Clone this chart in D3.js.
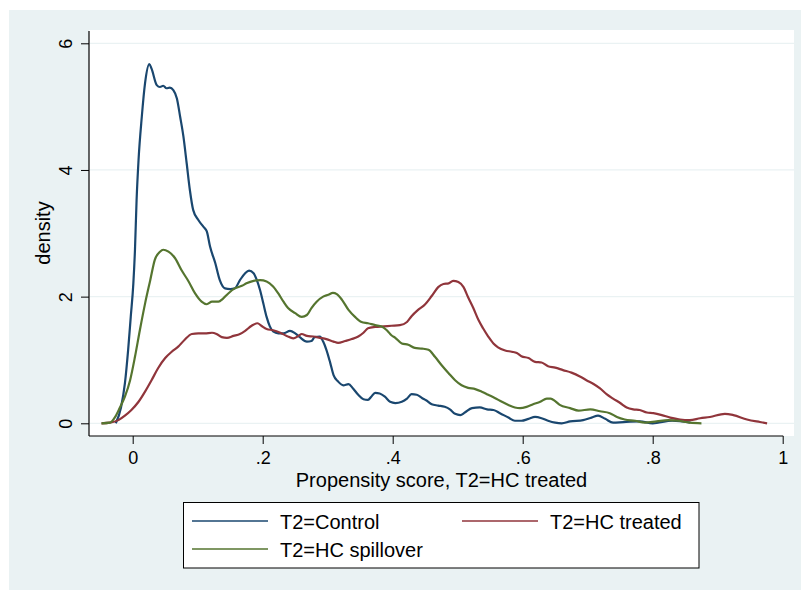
<!DOCTYPE html>
<html>
<head>
<meta charset="utf-8">
<script src="https://cdn.jsdelivr.net/npm/d3@7"></script>
<style>
  html, body { margin: 0; padding: 0; background: #ffffff; }
  svg { display: block; }
  text { font-family: "Liberation Sans", Arial, Helvetica, sans-serif; fill: #000; }
</style>
</head>
<body>
<svg id="chart" width="801" height="590"></svg>
<script>
// Kernel density estimates of the propensity score, by T2 group
const seriesNames = ["T2=Control", "T2=HC treated", "T2=HC spillover"];
const seriesColors = ["#1a476f", "#90353b", "#55752f"];

const controlDensity = [
  [-0.026,0.0],[-0.018,0.25],[-0.012,0.63],[-0.007,1.16],[-0.003,1.68],[0.001,2.21],
  [0.0035,2.74],[0.006,3.53],[0.009,4.16],[0.014,4.84],[0.019,5.37],[0.0256,5.67],
  [0.029,5.60],[0.037,5.34],[0.042,5.31],[0.047,5.33],[0.052,5.29],[0.057,5.30],
  [0.0625,5.26],[0.068,5.13],[0.073,4.84],[0.078,4.53],[0.083,4.11],[0.088,3.68],
  [0.093,3.37],[0.101,3.21],[0.109,3.10],[0.114,3.03],[0.119,2.79],[0.127,2.53],
  [0.134,2.26],[0.142,2.13],[0.150,2.12],[0.157,2.13],[0.165,2.26],[0.173,2.37],
  [0.179,2.41],[0.186,2.37],[0.191,2.26],[0.196,2.10],[0.201,1.89],[0.206,1.68],
  [0.211,1.53],[0.216,1.45],[0.224,1.42],[0.232,1.42],[0.242,1.46],[0.250,1.42],
  [0.257,1.36],[0.268,1.29],[0.275,1.30],[0.280,1.36],[0.288,1.37],[0.293,1.29],
  [0.298,1.16],[0.304,0.95],[0.309,0.76],[0.316,0.66],[0.324,0.60],[0.332,0.62],
  [0.339,0.55],[0.347,0.45],[0.355,0.38],[0.362,0.37],[0.367,0.42],[0.373,0.48],
  [0.380,0.47],[0.388,0.42],[0.396,0.34],[0.404,0.32],[0.414,0.34],[0.422,0.39],
  [0.429,0.46],[0.437,0.45],[0.445,0.40],[0.452,0.36],[0.460,0.30],[0.470,0.28],
  [0.480,0.26],[0.488,0.22],[0.496,0.15],[0.504,0.13],[0.511,0.17],[0.522,0.24],
  [0.534,0.25],[0.545,0.22],[0.555,0.21],[0.565,0.16],[0.578,0.09],[0.588,0.04],
  [0.598,0.04],[0.609,0.07],[0.619,0.10],[0.629,0.08],[0.639,0.04],[0.650,0.01],
  [0.660,0.0],[0.673,0.03],[0.693,0.05],[0.706,0.09],[0.716,0.12],[0.727,0.07],
  [0.739,0.01],[0.755,0.02],[0.780,0.03],[0.800,0.0],[0.830,0.04],[0.858,0.01]
];

const treatedDensity = [
  [-0.048,0.0],[-0.035,0.01],[-0.022,0.05],[-0.012,0.12],[-0.002,0.21],[0.009,0.34],
  [0.019,0.50],[0.029,0.68],[0.039,0.87],[0.050,1.03],[0.060,1.13],[0.070,1.21],
  [0.080,1.32],[0.091,1.41],[0.101,1.42],[0.111,1.42],[0.122,1.43],[0.129,1.41],
  [0.137,1.36],[0.145,1.35],[0.155,1.38],[0.165,1.41],[0.173,1.46],[0.183,1.54],
  [0.192,1.58],[0.198,1.54],[0.206,1.49],[0.216,1.47],[0.227,1.43],[0.237,1.38],
  [0.247,1.34],[0.255,1.38],[0.260,1.41],[0.268,1.38],[0.278,1.37],[0.288,1.35],
  [0.298,1.33],[0.309,1.29],[0.316,1.27],[0.327,1.30],[0.337,1.33],[0.347,1.37],
  [0.355,1.43],[0.362,1.50],[0.373,1.52],[0.386,1.53],[0.398,1.54],[0.411,1.55],
  [0.422,1.60],[0.429,1.69],[0.439,1.79],[0.450,1.88],[0.460,2.01],[0.470,2.15],
  [0.478,2.20],[0.486,2.21],[0.493,2.25],[0.501,2.23],[0.509,2.15],[0.516,1.99],
  [0.524,1.82],[0.532,1.63],[0.539,1.50],[0.547,1.37],[0.555,1.26],[0.562,1.20],
  [0.573,1.15],[0.583,1.13],[0.591,1.11],[0.598,1.06],[0.609,1.03],[0.619,0.97],
  [0.629,0.96],[0.639,0.90],[0.650,0.88],[0.662,0.84],[0.675,0.80],[0.688,0.74],
  [0.698,0.68],[0.709,0.62],[0.719,0.55],[0.729,0.46],[0.739,0.39],[0.750,0.32],
  [0.760,0.25],[0.770,0.22],[0.780,0.21],[0.791,0.17],[0.801,0.16],[0.814,0.13],
  [0.827,0.09],[0.842,0.06],[0.857,0.05],[0.873,0.08],[0.888,0.10],[0.911,0.15],
  [0.924,0.13],[0.945,0.06],[0.965,0.02],[0.976,0.0]
];

const spilloverDensity = [
  [-0.048,0.0],[-0.035,0.01],[-0.027,0.10],[-0.020,0.24],[-0.012,0.42],[-0.004,0.68],
  [0.0035,1.05],[0.011,1.47],[0.019,1.89],[0.027,2.26],[0.034,2.58],[0.042,2.71],
  [0.047,2.74],[0.055,2.71],[0.065,2.61],[0.075,2.42],[0.086,2.24],[0.096,2.05],
  [0.106,1.92],[0.114,1.88],[0.122,1.92],[0.132,1.92],[0.139,1.97],[0.147,2.05],
  [0.157,2.13],[0.168,2.17],[0.175,2.21],[0.186,2.25],[0.196,2.26],[0.206,2.24],
  [0.216,2.16],[0.224,2.05],[0.232,1.92],[0.239,1.82],[0.250,1.74],[0.260,1.68],
  [0.268,1.71],[0.275,1.82],[0.283,1.92],[0.293,2.00],[0.301,2.03],[0.308,2.06],
  [0.314,2.04],[0.322,1.95],[0.332,1.79],[0.342,1.68],[0.352,1.60],[0.362,1.58],
  [0.373,1.55],[0.383,1.53],[0.391,1.47],[0.398,1.39],[0.404,1.35],[0.414,1.26],
  [0.424,1.24],[0.434,1.19],[0.445,1.18],[0.455,1.16],[0.465,1.05],[0.475,0.92],
  [0.486,0.79],[0.496,0.68],[0.506,0.60],[0.516,0.56],[0.527,0.54],[0.537,0.50],
  [0.547,0.45],[0.557,0.40],[0.568,0.34],[0.578,0.29],[0.588,0.25],[0.596,0.24],
  [0.606,0.26],[0.616,0.30],[0.627,0.34],[0.637,0.39],[0.643,0.39],[0.650,0.35],
  [0.657,0.29],[0.673,0.24],[0.686,0.20],[0.704,0.22],[0.719,0.19],[0.734,0.16],
  [0.745,0.10],[0.757,0.06],[0.773,0.04],[0.788,0.01],[0.806,0.03],[0.824,0.05],
  [0.839,0.04],[0.857,0.01],[0.875,0.0]
];

const xTicks = [0, 0.2, 0.4, 0.6, 0.8, 1];
const yTicks = [0, 2, 4, 6];
const xTitle = "Propensity score, T2=HC treated";
const yTitle = "density";

// ---- layout ----
const W = 801, H = 590;
const plot = { left: 89, top: 30, right: 794, bottom: 436 };

const svg = d3.select("#chart");

// outer graph region
svg.append("rect")
  .attr("x", 9).attr("y", 10).attr("width", W - 9).attr("height", H - 10)
  .attr("fill", "#eaf2f3");

// plot region
svg.append("rect")
  .attr("x", plot.left).attr("y", plot.top)
  .attr("width", plot.right - plot.left).attr("height", plot.bottom - plot.top)
  .attr("fill", "#ffffff");

const x = d3.scaleLinear().domain([0, 1]).range([132.7, 782.7]);
const y = d3.scaleLinear().domain([0, 6]).range([423.3, 43.3]);

// horizontal grid lines
svg.append("g").selectAll("line")
  .data(yTicks)
  .join("line")
  .attr("x1", plot.left + 1).attr("x2", plot.right)
  .attr("y1", d => y(d)).attr("y2", d => y(d))
  .attr("stroke", "#eaf2f3").attr("stroke-width", 1.3);

// density curves
const line = d3.line()
  .x(d => x(d[0]))
  .y(d => y(d[1]))
  .curve(d3.curveMonotoneX);

const allSeries = [controlDensity, treatedDensity, spilloverDensity];
svg.append("g").selectAll("path")
  .data(allSeries)
  .join("path")
  .attr("d", line)
  .attr("fill", "none")
  .attr("stroke", (d, i) => seriesColors[i])
  .attr("stroke-width", 2.2)
  .attr("stroke-linejoin", "round");

// y axis
const yAxis = d3.axisLeft(y).tickValues(yTicks).tickSize(8).tickSizeOuter(0)
  .tickFormat(d3.format("d"));
const gy = svg.append("g").attr("transform", `translate(${plot.left},0)`).call(yAxis);
gy.select(".domain").remove();
gy.selectAll(".tick line").attr("stroke", "#000").attr("stroke-width", 1);
gy.selectAll(".tick text")
  .attr("x", 0).attr("dy", 0)
  .attr("transform", "translate(-17,0) rotate(-90)")
  .attr("text-anchor", "middle")
  .style("font-size", "18px")
  .style("font-family", "'Liberation Sans', Arial, Helvetica, sans-serif");
svg.append("line")
  .attr("x1", plot.left).attr("x2", plot.left)
  .attr("y1", plot.top + 1).attr("y2", plot.bottom)
  .attr("stroke", "#000").attr("stroke-width", 1.2);

// x axis
const fmtX = d => d === 0 ? "0" : (d === 1 ? "1" : d3.format(".1f")(d).replace(/^0/, ""));
const xAxis = d3.axisBottom(x).tickValues(xTicks).tickSize(8).tickSizeOuter(0)
  .tickFormat(fmtX);
const gx = svg.append("g").attr("transform", `translate(0,${plot.bottom})`).call(xAxis);
gx.select(".domain").remove();
gx.selectAll(".tick line").attr("stroke", "#000").attr("stroke-width", 1);
gx.selectAll(".tick text")
  .attr("y", 28).attr("dy", 0)
  .style("font-size", "18px")
  .style("font-family", "'Liberation Sans', Arial, Helvetica, sans-serif");
svg.append("line")
  .attr("x1", plot.left).attr("x2", x(1) + 0.5)
  .attr("y1", plot.bottom).attr("y2", plot.bottom)
  .attr("stroke", "#000").attr("stroke-width", 1.2);

// axis titles
svg.append("text")
  .attr("x", (plot.left + plot.right) / 2).attr("y", 487)
  .attr("text-anchor", "middle")
  .style("font-size", "20px")
  .text(xTitle);

svg.append("text")
  .attr("transform", `translate(50,${(plot.top + plot.bottom) / 2}) rotate(-90)`)
  .attr("text-anchor", "middle")
  .style("font-size", "20px")
  .text(yTitle);

// legend
const legend = svg.append("g");
legend.append("rect")
  .attr("x", 183.5).attr("y", 502.5).attr("width", 515.5).attr("height", 65.5)
  .attr("fill", "#ffffff").attr("stroke", "#000").attr("stroke-width", 1);

const legendItems = [
  { name: seriesNames[0], color: seriesColors[0], lx: 192, ly: 521 },
  { name: seriesNames[1], color: seriesColors[1], lx: 462, ly: 521 },
  { name: seriesNames[2], color: seriesColors[2], lx: 192, ly: 549 }
];
const li = legend.selectAll("g.item").data(legendItems).join("g").attr("class", "item");
li.append("line")
  .attr("x1", d => d.lx).attr("x2", d => d.lx + 76)
  .attr("y1", d => d.ly).attr("y2", d => d.ly)
  .attr("stroke", d => d.color).attr("stroke-width", 1.6);
li.append("text")
  .attr("x", d => d.lx + 88).attr("y", d => d.ly + 8)
  .style("font-size", "20px")
  .text(d => d.name);
</script>
</body>
</html>
